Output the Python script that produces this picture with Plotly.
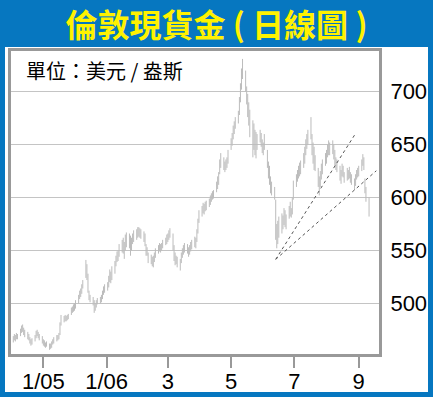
import plotly.graph_objects as go
import pandas as pd

# ---------------- data ----------------
start_date = "2005-10-03"
end_date = "2006-09-11"

highs = [
    # Oct 2005
    469, 471, 470, 472, 471, 476, 479, 480, 477, 475, 473, 471, 468, 466, 467, 470, 474, 475, 473, 471, 469,
    # Nov 2005
    466, 465, 463, 464, 462, 462, 464, 466, 468, 470, 470, 472, 482, 489, 488, 489, 488, 489, 490, 496, 497, 499,
    # Dec 2005
    500, 503, 508, 512, 514, 518, 522, 541, 537, 528, 512, 508, 506, 503, 500, 503, 505, 506, 508, 512, 516, 518,
    # Jan 2006
    520, 526, 532, 530, 535, 540, 545, 549, 550, 556, 560, 562, 558, 565, 567, 566, 564, 562, 566, 569, 570, 572,
    # Feb 2006
    572, 571, 570, 568, 566, 556, 553, 548, 546, 544, 545, 548, 552, 555, 557, 556, 557, 560, 562, 565,
    # Mar 2006
    566, 569, 571, 566, 555, 548, 545, 544, 542, 548, 552, 555, 557, 556, 553, 555, 558, 560, 563, 562, 570, 580, 588,
    # Apr 2006
    592, 595, 594, 596, 597, 599, 602, 604, 606, 607, 615, 620, 624, 636, 642, 638, 634, 636, 638, 645,
    # May 2006
    656, 661, 668, 672, 676, 682, 695, 708, 722, 731, 720, 705, 698, 690, 683, 673, 670, 664, 662, 660, 664, 661, 655,
    # Jun 2006
    652, 660, 645, 634, 630, 620, 615, 610, 598, 575, 578, 582, 585, 583, 590, 588, 584, 592, 596, 590, 600, 616,
    # Jul 2006
    622, 626, 630, 633, 635, 642, 648, 655, 660, 664, 676, 660, 652, 648, 640, 628, 620, 625, 632, 636, 642,
    # Aug 2006
    645, 650, 654, 652, 654, 650, 645, 638, 636, 630, 626, 632, 630, 624, 628, 626, 629, 624, 622, 618, 622, 626, 628,
    # Sep 2006
    630, 636, 641, 638, 618, 610, 600,
]

lows = [
    # Oct 2005
    463, 465, 464, 466, 466, 469, 472, 473, 470, 468, 466, 465, 462, 460, 461, 464, 467, 469, 467, 465, 462,
    # Nov 2005
    460, 459, 458, 459, 456, 457, 458, 461, 462, 464, 465, 466, 470, 479, 482, 483, 483, 484, 485, 489, 491, 492,
    # Dec 2005
    493, 495, 500, 504, 506, 509, 514, 524, 522, 510, 503, 501, 498, 491, 493, 496, 499, 500, 501, 504, 508, 510,
    # Jan 2006
    512, 515, 520, 519, 522, 528, 535, 539, 540, 544, 548, 547, 542, 550, 553, 552, 545, 550, 556, 558, 560, 562,
    # Feb 2006
    563, 562, 561, 558, 554, 545, 545, 538, 537, 535, 534, 539, 543, 547, 549, 548, 550, 552, 555, 556,
    # Mar 2006
    558, 560, 562, 550, 540, 536, 537, 534, 531, 538, 543, 546, 548, 547, 544, 546, 549, 551, 553, 552, 558, 566, 576,
    # Apr 2006
    582, 585, 584, 587, 588, 591, 593, 596, 598, 599, 605, 608, 612, 622, 628, 626, 624, 626, 628, 632,
    # May 2006
    645, 649, 655, 660, 665, 670, 678, 690, 702, 712, 700, 688, 676, 668, 657, 638, 645, 640, 637, 645, 652, 648, 642,
    # Jun 2006
    640, 645, 628, 618, 612, 604, 602, 598, 560, 552, 556, 562, 566, 570, 574, 572, 570, 580, 582, 581, 584, 598,
    # Jul 2006
    610, 615, 618, 620, 622, 628, 632, 640, 646, 650, 655, 640, 632, 626, 625, 610, 602, 610, 617, 622, 630,
    # Aug 2006
    632, 638, 640, 640, 641, 636, 630, 626, 624, 616, 613, 620, 619, 614, 616, 617, 618, 614, 612, 607, 611, 617, 619,
    # Sep 2006
    620, 625, 630, 626, 604, 596, 582,
]

trend_start_date = "2006-06-13"
trend_start_value = 541.6
trend1_end_date = "2006-08-28"
trend1_end_value = 659.0
trend2_end_date = "2006-09-18"
trend2_end_value = 625.3

tick_dates = ["2005-11-01", "2006-01-01", "2006-03-01", "2006-05-01", "2006-07-01", "2006-09-01"]
tick_labels = ["1/05", "1/06", "3", "5", "7", "9"]
y_ticks = [500, 550, 600, 650, 700]

title_text = "倫敦現貨金 ( 日線圖 )"
unit_text = "單位：美元 / 盎斯"

# ---------------- build ----------------
dates = pd.bdate_range(start_date, end_date)
assert len(dates) == len(highs) == len(lows)

seg_x, seg_y = [], []
for d, h, l in zip(dates, highs, lows):
    seg_x += [d, d, None]
    seg_y += [l, h, None]

BLUE = "#0677c0"

fig = go.Figure()
fig.add_trace(go.Scatter(x=seg_x, y=seg_y, mode="lines",
                         line=dict(color="#bcbcbc", width=1), hoverinfo="skip"))
fig.add_trace(go.Scatter(x=[trend_start_date, trend1_end_date],
                         y=[trend_start_value, trend1_end_value], mode="lines",
                         line=dict(color="#555555", width=1, dash="dot")))
fig.add_trace(go.Scatter(x=[trend_start_date, trend2_end_date],
                         y=[trend_start_value, trend2_end_value], mode="lines",
                         line=dict(color="#555555", width=1, dash="dot")))

W, H = 433, 397
L, R, T, B = 11, 379, 51, 354
pw, ph = R - L, B - T

def px(x):
    return (x - L) / pw

def py(y):
    return (B - y) / ph

fig.add_shape(type="rect", xref="paper", yref="paper",
              x0=px(5), x1=px(428), y0=py(392), y1=py(47),
              fillcolor="white", line=dict(width=0), layer="below")

fig.add_annotation(xref="paper", yref="paper", x=px(24), y=py(70.5),
                   xanchor="left", yanchor="middle", showarrow=False,
                   text=unit_text,
                   font=dict(family="Noto Sans CJK TC", size=20, color="black"))

fig.update_layout(
    width=W, height=H,
    margin=dict(l=L, r=W - R, t=T, b=H - B, pad=0, autoexpand=False),
    paper_bgcolor=BLUE, plot_bgcolor="white",
    showlegend=False,
    title=dict(text=title_text, x=0.5, xref="container",
               xanchor="center", y=1 - 26 / H, yanchor="middle",
               font=dict(family="Noto Sans CJK TC", size=32, color="#fff200",
                         weight="bold")),
    xaxis=dict(type="date", automargin=False,
               range=["2005-09-30 19:00", "2006-09-20 14:00"],
               tickvals=tick_dates, ticktext=tick_labels,
               ticks="outside", ticklen=11, tickwidth=2, tickcolor="#999999",
               ticklabelstandoff=-5,
               showgrid=False, zeroline=False,
               showline=True, mirror=True, linecolor="#999999", linewidth=3,
               tickfont=dict(family="Liberation Sans, Arial", size=22, color="black")),
    yaxis=dict(range=[452.1, 738.5], side="right", automargin=False,
               tickvals=y_ticks, ticks="",
               showgrid=True, gridcolor="#c4c4c4", gridwidth=1, zeroline=False,
               showline=True, mirror=True, linecolor="#999999", linewidth=3,
               ticklabelstandoff=4,
               tickfont=dict(family="Liberation Sans, Arial", size=22, color="black")),
)

fig.write_html("out.html")
